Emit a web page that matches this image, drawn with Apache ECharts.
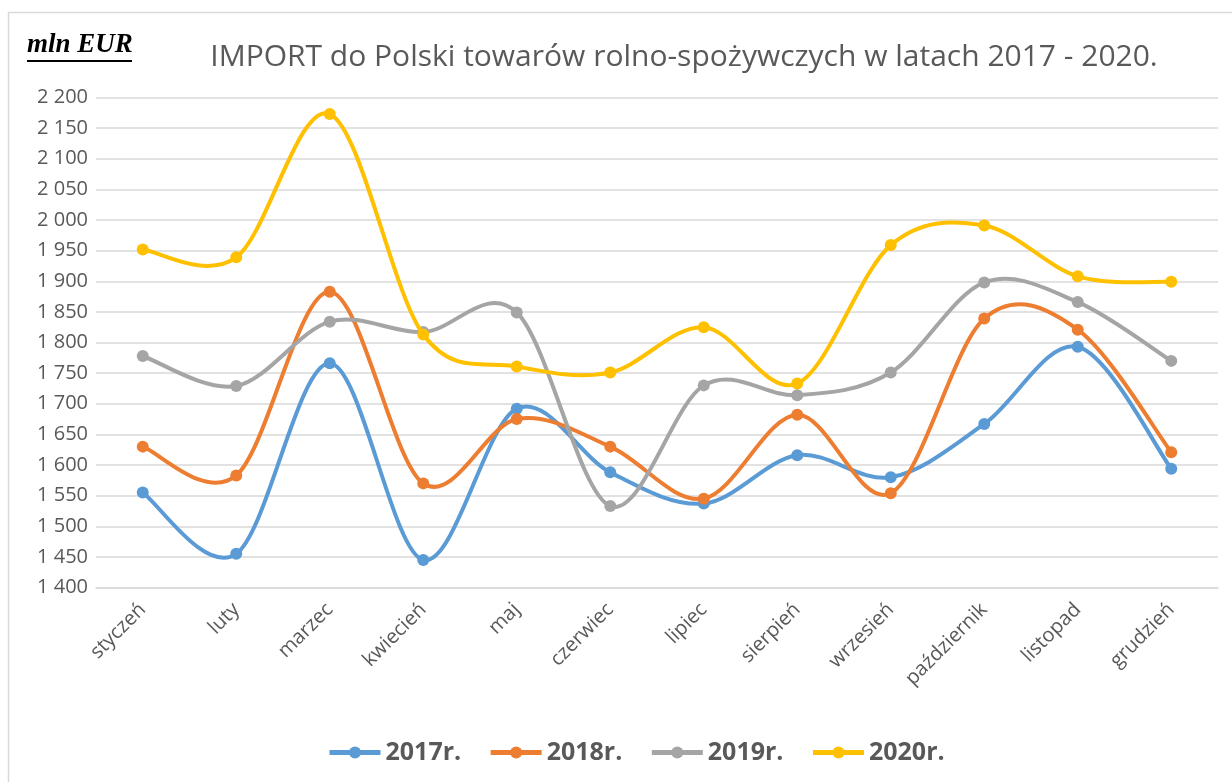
<!DOCTYPE html>
<html>
<head>
<meta charset="utf-8">
<script src="https://cdn.jsdelivr.net/npm/echarts@6/dist/echarts.min.js"></script>
<style>
html,body{margin:0;padding:0;background:#fff;}
#chart{width:1232px;height:782px;}
</style>
</head>
<body>
<div id="chart"></div>
<script>
var months = ['styczeń','luty','marzec','kwiecień','maj','czerwiec','lipiec','sierpień','wrzesień','październik','listopad','grudzień'];
var seriesNames = ['2017r.','2018r.','2019r.','2020r.'];
var v2017 = [1555,1455,1766,1445,1692,1588,1537,1616,1580,1667,1793,1594];
var v2018 = [1630,1583,1883,1570,1675,1630,1545,1682,1554,1839,1821,1621];
var v2019 = [1778,1729,1834,1817,1849,1533,1730,1714,1751,1898,1866,1770];
var v2020 = [1952,1939,2173,1813,1761,1751,1825,1733,1959,1991,1908,1899];
var yTickLabels = ['1 400','1 450','1 500','1 550','1 600','1 650','1 700','1 750','1 800','1 850','1 900','1 950','2 000','2 050','2 100','2 150','2 200'];
var titleText = 'IMPORT do Polski towarów rolno-spożywczych w latach 2017 - 2020.';
var unitText = 'mln EUR';

var colors = ['#5B9BD5','#ED7D31','#A5A5A5','#FFC000'];
var allValues = [v2017, v2018, v2019, v2020];

var chart = echarts.init(document.getElementById('chart'), null, {renderer:'canvas'});

// markers (line series, line itself hidden; curve drawn by custom series below)
var markerSeries = seriesNames.map(function(name, i){
  return {
    name: name,
    type: 'line',
    data: allValues[i],
    symbol: 'circle',
    symbolSize: 12,
    lineStyle: {width: 4, color: colors[i], opacity: 0},
    itemStyle: {color: colors[i]},
    z: 3 + 2 * i
  };
});

// Excel-like smoothed curve (Catmull-Rom style Bezier through the data points, via axis coords)
var curveSeries = seriesNames.map(function(name, i){
  var vals = allValues[i];
  return {
    name: name,
    type: 'custom',
    silent: true,
    data: vals.map(function(v, k){ return [k, v]; }),
    encode: {x: 0, y: 1},
    z: 2 + 2 * i,
    renderItem: function(params, api){
      var k = params.dataIndex, n = vals.length;
      if (k >= n - 1) return null;
      function pt(j){ j = Math.max(0, Math.min(n - 1, j)); return api.coord([j, vals[j]]); }
      var p0 = pt(k - 1), p1 = pt(k), p2 = pt(k + 1), p3 = pt(k + 2);
      var t = 1 / 6;
      return {
        type: 'bezierCurve',
        shape: {
          x1: p1[0], y1: p1[1], x2: p2[0], y2: p2[1],
          cpx1: p1[0] + (p2[0] - p0[0]) * t, cpy1: p1[1] + (p2[1] - p0[1]) * t,
          cpx2: p2[0] - (p3[0] - p1[0]) * t, cpy2: p2[1] - (p3[1] - p1[1]) * t
        },
        style: {stroke: colors[i], lineWidth: 4, fill: null, lineCap: 'round'}
      };
    }
  };
});

chart.setOption({
  animation: false,
  color: colors,
  title: {
    text: titleText,
    left: 679,
    top: 37,
    textAlign: 'center',
    textStyle: {fontFamily: 'Open Sans', fontSize: 30, fontWeight: 'normal', color: '#595959'}
  },
  graphic: [
    {type: 'rect', shape: {x: 8.5, y: 12.5, width: 1300, height: 900}, style: {fill: 'none', stroke: '#d9d9d9', lineWidth: 1.5}, z: -10},
    {type: 'text', left: 27, top: 32, style: {text: unitText, font: 'italic bold 27px "Liberation Serif"', fill: '#000'}},
    {type: 'line', shape: {x1: 27, y1: 61, x2: 132, y2: 61}, style: {stroke: '#000', lineWidth: 2}}
  ],
  legend: {
    data: seriesNames,
    top: 740,
    left: 327,
    padding: 0,
    itemWidth: 51,
    itemHeight: 15,
    itemGap: 27,
    lineStyle: {width: 5, opacity: 1},
    textStyle: {fontFamily: 'Open Sans', fontSize: 25, fontWeight: 'bold', color: '#595959'}
  },
  grid: {left: 96, right: 14, top: 97.5, bottom: 194.5, containLabel: false},
  xAxis: {
    type: 'category',
    data: months,
    boundaryGap: true,
    axisLine: {show: true, lineStyle: {color: '#d9d9d9', width: 1.5}},
    axisTick: {show: false},
    axisLabel: {rotate: 45, interval: 0, margin: 19, fontFamily: 'Open Sans', fontSize: 20, color: '#595959'}
  },
  yAxis: {
    type: 'value',
    min: 1400,
    max: 2200,
    interval: 50,
    axisLine: {show: false},
    axisTick: {show: false},
    splitLine: {lineStyle: {color: '#d9d9d9', width: 1.5}},
    axisLabel: {
      margin: 8,
      fontFamily: 'Open Sans',
      fontSize: 20,
      color: '#595959',
      formatter: function(v){ return yTickLabels[Math.round((v - 1400) / 50)]; }
    }
  },
  series: markerSeries.concat(curveSeries)
});
</script>
</body>
</html>
